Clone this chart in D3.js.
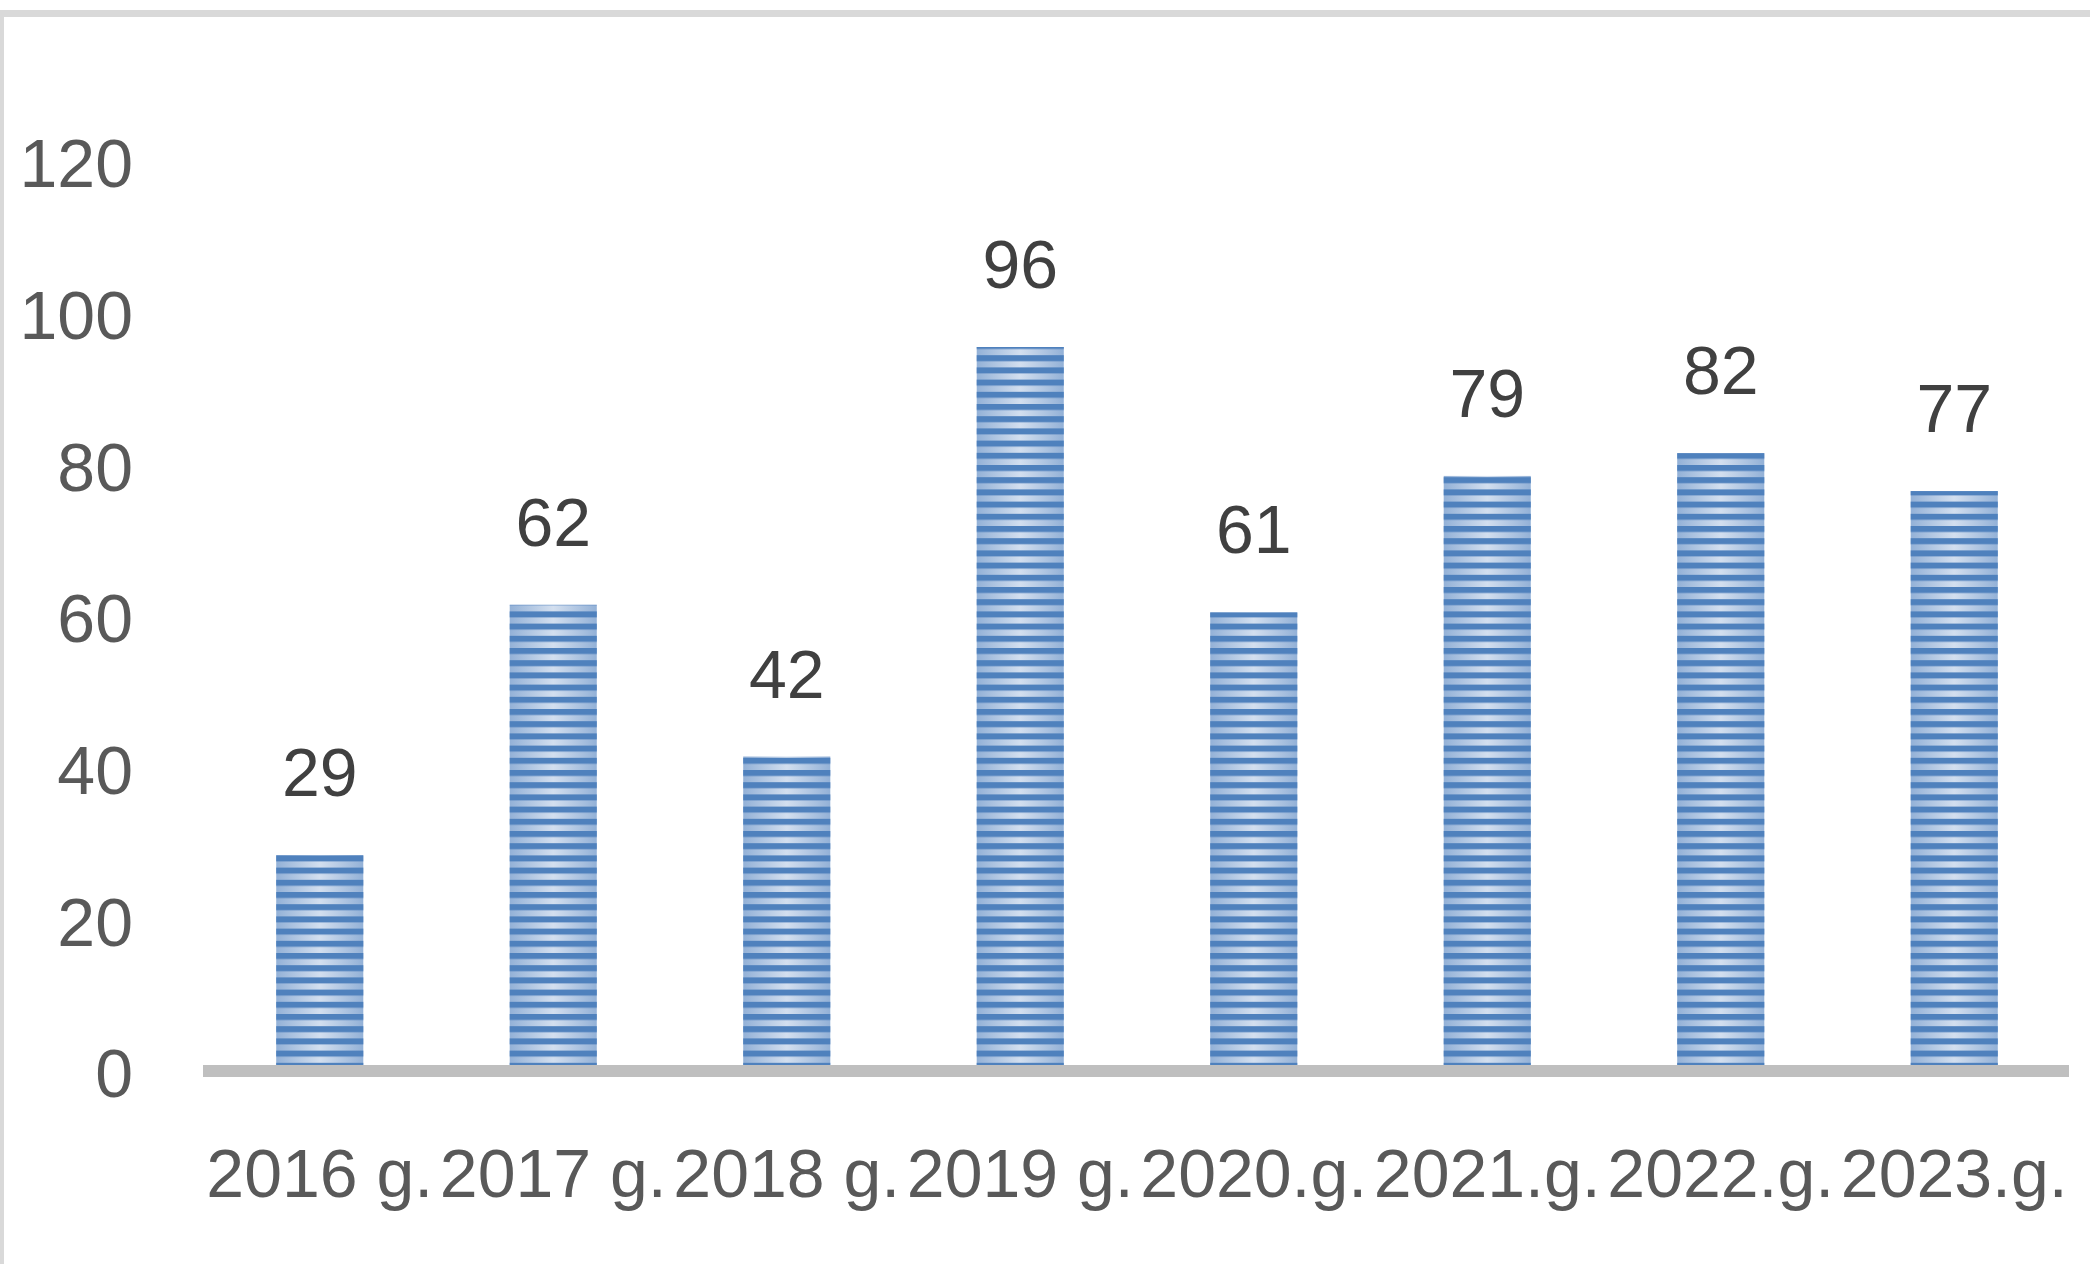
<!DOCTYPE html>
<html lang="en">
<head>
<meta charset="utf-8">
<script src="https://cdn.jsdelivr.net/npm/d3@7"></script>
<style>
  body { margin: 0; background: #fff; }
  svg { display: block; }
</style>
</head>
<body>
<script>

var years = ["2016 g.", "2017 g.", "2018 g.", "2019 g.", "2020.g.", "2021.g.", "2022.g.", "2023.g."];
var values = [29, 62, 42, 96, 61, 79, 82, 77];
var yTicks = [0, 20, 40, 60, 80, 100, 120];

var w = 2090;
var h = 1264;

var svg = d3.select("body")
  .append("svg")
  .attr("width", w)
  .attr("height", h);

var defs = svg.append("defs");

// light gradient across each bar (pale in the middle)
var grad = defs.append("linearGradient")
  .attr("id", "barGrad")
  .attr("x1", "0").attr("x2", "1").attr("y1", "0").attr("y2", "0");
grad.append("stop").attr("offset", "0%").attr("stop-color", "#93b1d7");
grad.append("stop").attr("offset", "50%").attr("stop-color", "#d3dfef");
grad.append("stop").attr("offset", "100%").attr("stop-color", "#93b1d7");

// dark horizontal stripes on top of it
var stripes = defs.append("pattern")
  .attr("id", "stripes")
  .attr("patternUnits", "userSpaceOnUse")
  .attr("width", 12)
  .attr("height", 12.2)
  .attr("y", 1075);
stripes.append("rect")
  .attr("x", 0).attr("y", 0)
  .attr("width", 12).attr("height", 6)
  .attr("fill", "#4f81bd");

// frame
svg.append("rect").attr("x", 0).attr("y", 10).attr("width", w).attr("height", 7).attr("fill", "#d9d9d9");
svg.append("rect").attr("x", 0).attr("y", 10).attr("width", 4).attr("height", h - 10).attr("fill", "#d9d9d9");

var xScale = d3.scaleBand()
  .domain(years)
  .range([203, 2071])
  .paddingInner(0.627)
  .paddingOuter(0.3135);

var yScale = d3.scaleLinear()
  .domain([0, 120])
  .range([1075, 165]);

var bars = svg.append("g");

bars.selectAll("rect.base")
  .data(values)
  .enter()
  .append("rect")
  .attr("class", "base")
  .attr("x", function(d, i) { return xScale(years[i]); })
  .attr("y", function(d) { return yScale(d); })
  .attr("width", xScale.bandwidth())
  .attr("height", function(d) { return yScale(0) - yScale(d); })
  .attr("fill", "url(#barGrad)");

bars.selectAll("rect.stripe")
  .data(values)
  .enter()
  .append("rect")
  .attr("class", "stripe")
  .attr("x", function(d, i) { return xScale(years[i]); })
  .attr("y", function(d) { return yScale(d); })
  .attr("width", xScale.bandwidth())
  .attr("height", function(d) { return yScale(0) - yScale(d); })
  .attr("fill", "url(#stripes)");

// category axis line
svg.append("rect")
  .attr("x", 203)
  .attr("y", 1065)
  .attr("width", 2069 - 203)
  .attr("height", 12)
  .attr("fill", "#bfbfbf");

// y axis labels (no line, no gridlines)
var yAxis = d3.axisLeft(yScale).tickValues(yTicks).tickSize(0).tickPadding(0);
var gy = svg.append("g")
  .attr("transform", "translate(133,0)")
  .call(yAxis);
gy.select(".domain").remove();
gy.selectAll("text")
  .attr("font-family", "Liberation Sans, Arial, sans-serif")
  .attr("font-size", 68)
  .attr("fill", "#595959");

// x axis labels
var xAxis = d3.axisBottom(xScale).tickSize(0).tickPadding(0);
var gx = svg.append("g")
  .attr("transform", "translate(0,1197)")
  .call(xAxis);
gx.select(".domain").remove();
gx.selectAll("text")
  .attr("dy", 0)
  .attr("font-family", "Liberation Sans, Arial, sans-serif")
  .attr("font-size", 68)
  .attr("fill", "#595959");

// data labels
svg.selectAll("text.val")
  .data(values)
  .enter()
  .append("text")
  .attr("class", "val")
  .attr("x", function(d, i) { return xScale(years[i]) + xScale.bandwidth() / 2; })
  .attr("y", function(d) { return yScale(d) - 59; })
  .attr("text-anchor", "middle")
  .attr("font-family", "Liberation Sans, Arial, sans-serif")
  .attr("font-size", 68)
  .attr("fill", "#404040")
  .text(function(d) { return d; });

</script>
</body>
</html>
